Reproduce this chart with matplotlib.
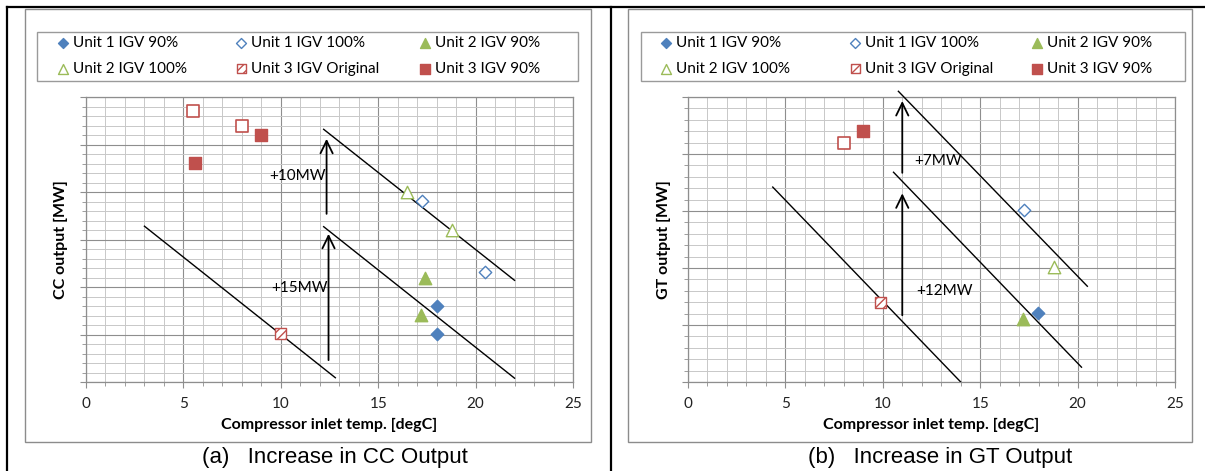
import matplotlib.pyplot as plt
from matplotlib.patches import Rectangle
from matplotlib.lines import Line2D
from matplotlib.ticker import MultipleLocator

# ============================================================
# Data (x = compressor inlet temp [degC])
# ============================================================
# (a) CC output [MW]
cc_u1_90_x, cc_u1_90_y = [18.0, 18.0], [8.05, 5.1]
cc_u1_100_x, cc_u1_100_y = [17.25, 20.5], [19.1, 11.55]
cc_u2_90_x, cc_u2_90_y = [17.4, 17.2], [11.0, 7.05]
cc_u2_100_x, cc_u2_100_y = [16.5, 18.8], [19.95, 16.0]
cc_u3_orig_x, cc_u3_orig_y = [10.0], [5.1]
cc_u3_90_x, cc_u3_90_y = [9.0, 5.6], [26.05, 23.05]
cc_u3_open_x, cc_u3_open_y = [5.5, 8.0], [28.5, 26.95]

cc_lines_x = [[3.0, 12.8], [12.2, 22.0], [12.2, 22.0]]
cc_lines_y = [[16.4, 0.45], [16.35, 0.4], [26.6, 10.7]]
cc_arrows = [(12.35, 17.7, 25.6, "+10MW", 9.4, 21.7),
             (12.45, 2.3, 15.6, "+15MW", 9.5, 9.9)]

# (b) GT output [MW]
gt_u1_90_x, gt_u1_90_y = [17.95], [6.05]
gt_u1_100_x, gt_u1_100_y = [17.25], [15.1]
gt_u2_90_x, gt_u2_90_y = [17.2], [5.55]
gt_u2_100_x, gt_u2_100_y = [18.8], [10.05]
gt_u3_orig_x, gt_u3_orig_y = [9.9], [7.0]
gt_u3_90_x, gt_u3_90_y = [9.0], [22.0]
gt_u3_open_x, gt_u3_open_y = [8.0], [21.0]

gt_lines_x = [[4.35, 14.0], [10.55, 20.2], [10.8, 20.5]]
gt_lines_y = [[17.1, 0.0], [18.4, 1.3], [25.5, 8.4]]
gt_arrows = [(11.0, 18.35, 24.65, "+7MW", 11.6, 19.4),
             (11.0, 5.85, 16.55, "+12MW", 11.7, 8.0)]

legend_labels = ["Unit 1 IGV 90%", "Unit 1 IGV 100%", "Unit 2 IGV 90%",
                 "Unit 2 IGV 100%", "Unit 3 IGV Original", "Unit 3 IGV 90%"]

BLUE, RED, GREEN = "#4F81BD", "#C0504D", "#9BBB59"
W, H = 1205, 471
FONT = ["Lato", "DejaVu Sans"]
plt.rcParams["font.family"] = FONT
plt.rcParams["hatch.linewidth"] = 1.0


def fx(px):
    return px / W


def fy(py):
    return 1 - py / H


fig = plt.figure(figsize=(W / 100, H / 100), dpi=100)


def draw_panel(ax, ymax, series, lines_x, lines_y, arrows, clip_last):
    ax.set_xlim(0, 25)
    ax.set_ylim(0, ymax)
    ax.xaxis.set_major_locator(MultipleLocator(5))
    ax.xaxis.set_minor_locator(MultipleLocator(1))
    ax.yaxis.set_major_locator(MultipleLocator(5))
    ax.yaxis.set_minor_locator(MultipleLocator(1))
    ax.grid(True, which="minor", color="#C8C8C8", lw=0.7)
    ax.grid(True, which="major", color="#8E8E8E", lw=0.8)
    ax.set_axisbelow(True)
    ax.set_yticklabels([])
    ax.tick_params(axis="both", which="major", length=4, color="#8E8E8E")
    ax.tick_params(axis="both", which="minor", length=3, color="#8E8E8E")
    ax.tick_params(axis="x", labelsize=11, labelcolor="#222222", pad=7)
    for side in ax.spines:
        ax.spines[side].set_color("#8E8E8E")
        ax.spines[side].set_linewidth(0.9)

    for i, (lx, ly) in enumerate(zip(lines_x, lines_y)):
        ax.plot(lx, ly, color="black", lw=1.0,
                clip_on=not (clip_last and i == 2), zorder=3)
    for xa, y0, y1, txt, tx, ty in arrows:
        ax.annotate("", xy=(xa, y1), xytext=(xa, y0),
                    arrowprops=dict(arrowstyle="->,head_length=0.45,head_width=0.22",
                                    lw=1.3, color="black", mutation_scale=20,
                                    shrinkA=0, shrinkB=0), zorder=3)
        ax.text(tx, ty, txt, fontsize=11, ha="left", va="center", zorder=4)

    (u1_90, u1_100, u2_90, u2_100, u3_orig, u3_90, u3_open) = series
    h = []
    h.append(ax.scatter(*u1_90, marker="D", s=40, color=BLUE, zorder=5))
    h.append(ax.scatter(*u1_100, marker="D", s=40, facecolor="white",
                        edgecolor=BLUE, lw=1.0, zorder=5))
    h.append(ax.scatter(*u2_90, marker="^", s=80, color=GREEN, zorder=5))
    h.append(ax.scatter(*u2_100, marker="^", s=80, facecolor="white",
                        edgecolor=GREEN, lw=1.0, zorder=5))
    h.append(ax.scatter(*u3_orig, marker="s", s=64, facecolor="white",
                        edgecolor=RED, hatch="////", lw=1.0, zorder=5))
    h.append(ax.scatter(*u3_90, marker="s", s=80, color=RED, zorder=5))
    ax.scatter(*u3_open, marker="s", s=80, facecolor="white",
               edgecolor=RED, lw=1.2, zorder=5)
    return h


panels = [
    dict(x0=86, box=(25, 591), leg=(37, 578), cols=(63, 241, 425),
         ymax=30, ylab_x=61, ylabel="CC output [MW]",
         series=[(cc_u1_90_x, cc_u1_90_y), (cc_u1_100_x, cc_u1_100_y),
                 (cc_u2_90_x, cc_u2_90_y), (cc_u2_100_x, cc_u2_100_y),
                 (cc_u3_orig_x, cc_u3_orig_y), (cc_u3_90_x, cc_u3_90_y),
                 (cc_u3_open_x, cc_u3_open_y)],
         lx=cc_lines_x, ly=cc_lines_y, arrows=cc_arrows, clip_last=False,
         cap="(a)   Increase in CC Output", cap_x=335),
    dict(x0=688, box=(628, 1192), leg=(641, 1185), cols=(666, 855, 1037),
         ymax=25, ylab_x=664, ylabel="GT output [MW]",
         series=[(gt_u1_90_x, gt_u1_90_y), (gt_u1_100_x, gt_u1_100_y),
                 (gt_u2_90_x, gt_u2_90_y), (gt_u2_100_x, gt_u2_100_y),
                 (gt_u3_orig_x, gt_u3_orig_y), (gt_u3_90_x, gt_u3_90_y),
                 (gt_u3_open_x, gt_u3_open_y)],
         lx=gt_lines_x, ly=gt_lines_y, arrows=gt_arrows, clip_last=True,
         cap="(b)   Increase in GT Output", cap_x=940),
]

for p in panels:
    # chart area frame and legend frame
    bx0, bx1 = p["box"]
    fig.patches.append(Rectangle((fx(bx0), fy(442)), fx(bx1 - bx0), (442 - 9) / H,
                                 transform=fig.transFigure, fill=False,
                                 edgecolor="#8C8C8C", lw=1.0))
    lx0, lx1 = p["leg"]
    fig.patches.append(Rectangle((fx(lx0), fy(81)), fx(lx1 - lx0), (81 - 32) / H,
                                 transform=fig.transFigure, fill=False,
                                 edgecolor="#9A9A9A", lw=1.0))
    ax = fig.add_axes([fx(p["x0"]), fy(382), fx(487), 285 / H])
    handles = draw_panel(ax, p["ymax"], p["series"], p["lx"], p["ly"],
                         p["arrows"], p["clip_last"])
    # legend: three columns, two rows, filled row-wise
    for c, cx in enumerate(p["cols"]):
        idx = [c, c + 3]
        fig.legend([handles[i] for i in idx], [legend_labels[i] for i in idx],
                   loc="center left", bbox_to_anchor=(fx(cx - 6), fy(56)),
                   frameon=False, borderpad=0, borderaxespad=0,
                   fontsize=11, handlelength=0.8, handletextpad=0.25,
                   labelspacing=0.75, scatterpoints=1, markerscale=0.8)
    fig.text(fx(p["ylab_x"]), fy(240), p["ylabel"], rotation=90, fontsize=11.5,
             fontweight="bold", ha="center", va="center")
    fig.text(fx(p["x0"] + 243.5), fy(425), "Compressor inlet temp. [degC]",
             fontsize=11.5, fontweight="bold", ha="center", va="center")
    fig.text(fx(p["cap_x"]), fy(458), p["cap"], fontsize=16, ha="center",
             va="center", family=["Liberation Sans", "DejaVu Sans"])

# outer table borders
for xs, ys in [([7, 1205], [7, 7]), ([7.5, 7.5], [7, 471]), ([611, 611], [7, 471])]:
    fig.add_artist(Line2D([fx(v) for v in xs], [fy(v) for v in ys],
                          transform=fig.transFigure, color="black", lw=1.6))

fig.savefig("out.png", dpi=100)
